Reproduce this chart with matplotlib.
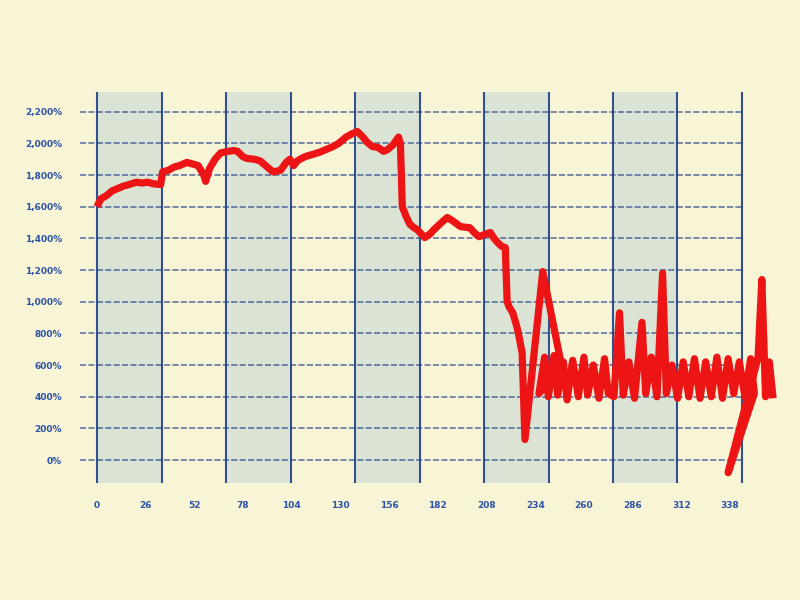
import matplotlib
matplotlib.use("Agg")
import matplotlib.pyplot as plt

# ---- data ----
x_vals = [0, 2, 5, 8, 11, 14, 17, 21, 24, 27, 30, 34, 35, 38, 41, 44, 48, 51, 54, 57, 58,
          60, 63, 66, 70, 73, 75, 78, 80, 84, 87, 90, 94, 98, 101, 103, 105, 107, 110, 112,
          115, 119, 122, 126, 129, 133, 136, 139, 142, 144, 147, 150, 153, 155, 158, 161,
          162, 163, 165, 167, 169, 171, 173, 175, 178, 180, 183, 187, 190, 194, 197, 199,
          202, 204, 207, 210, 212, 214, 216, 218, 219, 220, 222, 224, 225, 227, 228.5,
          238, 248,
          236, 239, 241, 244, 246, 249, 251, 254, 257, 260, 262, 265, 268, 271, 273, 276,
          279, 281, 284, 287, 291, 293, 296, 299, 302, 304, 307, 310, 313, 316, 319, 322,
          325, 328, 331, 334, 337, 340, 343, 346, 349, 351,
          337, 353, 355, 357, 359, 361]
y_vals = [1600, 1650, 1670, 1700, 1715, 1730, 1740, 1755, 1750, 1755, 1745, 1740, 1820, 1830,
          1850, 1860, 1880, 1870, 1860, 1800, 1760, 1840, 1900, 1940, 1950, 1955, 1950, 1915,
          1905, 1900, 1890, 1860, 1820, 1830, 1880, 1900, 1860, 1890, 1910, 1920, 1930, 1945,
          1960, 1980, 2000, 2040, 2060, 2075, 2040, 2010, 1980, 1975, 1950, 1960, 1990, 2040,
          2000, 1600, 1540, 1490, 1470, 1455, 1430, 1405, 1430, 1456, 1490, 1532, 1510, 1475,
          1470, 1468, 1430, 1411, 1425, 1437, 1400, 1373, 1350, 1342, 1000, 968, 930, 850,
          800, 677, 130,
          1190, 600,
          420, 650, 400, 660, 410, 620, 380, 630, 400, 650, 410, 600, 390, 640, 420, 400,
          930, 410, 620, 390, 870, 420, 650, 400, 1180, 420, 600, 390, 620, 400, 640, 390,
          620, 400, 650, 390, 640, 420, 620, 400, 640, 420,
          -80, 650, 1140, 400, 620, 390]

y_ticks = [0, 200, 400, 600, 800, 1000, 1200, 1400, 1600, 1800, 2000, 2200]
y_labels = ["0%", "200%", "400%", "600%", "800%", "1,000%", "1,200%", "1,400%",
            "1,600%", "1,800%", "2,000%", "2,200%"]
x_ticks = [0, 26, 52, 78, 104, 130, 156, 182, 208, 234, 260, 286, 312, 338]
x_labels = [str(v) for v in x_ticks]

# ---- style ----
bg = "#f8f5d6"
band = "#dbe4d4"
grid_c = "#1d3f8a"
label_c = "#2d52a6"
line_c = "#ec1414"

fig = plt.figure(figsize=(8, 6), dpi=100, facecolor=bg)
ax = fig.add_axes([0.1, 0.195, 0.875, 0.652])
ax.set_facecolor(bg)

x_lo, x_hi = -9.1, 364.7
y_lo, y_hi = -145, 2326
ax.set_xlim(x_lo, x_hi)
ax.set_ylim(y_lo, y_hi)

step = 34.44
vgrid = [k * step for k in range(11)]
for k in range(0, 10, 2):
    ax.axvspan(vgrid[k], vgrid[k + 1], color=band, lw=0, zorder=0)
for v in vgrid:
    ax.axvline(v, color=grid_c, lw=1.5, zorder=1, alpha=0.9)
ax.hlines(y_ticks, x_lo, vgrid[-1], colors=grid_c, lw=1.1, linestyles=(0, (4, 1.5)),
          zorder=1, alpha=0.75)

ax.plot(x_vals, y_vals, color=line_c, lw=5.2, zorder=3, solid_joinstyle="round",
        solid_capstyle="butt")

for s in ax.spines.values():
    s.set_visible(False)
ax.set_yticks(y_ticks)
ax.set_yticklabels(y_labels)
ax.set_xticks(x_ticks)
ax.set_xticklabels(x_labels)
ax.tick_params(axis="both", length=0, labelcolor=label_c, labelsize=6.5)
ax.tick_params(axis="y", pad=13)
ax.tick_params(axis="x", pad=13)
for t in ax.get_xticklabels() + ax.get_yticklabels():
    t.set_fontweight("bold")

fig.savefig("out.png", dpi=100, facecolor=bg)
